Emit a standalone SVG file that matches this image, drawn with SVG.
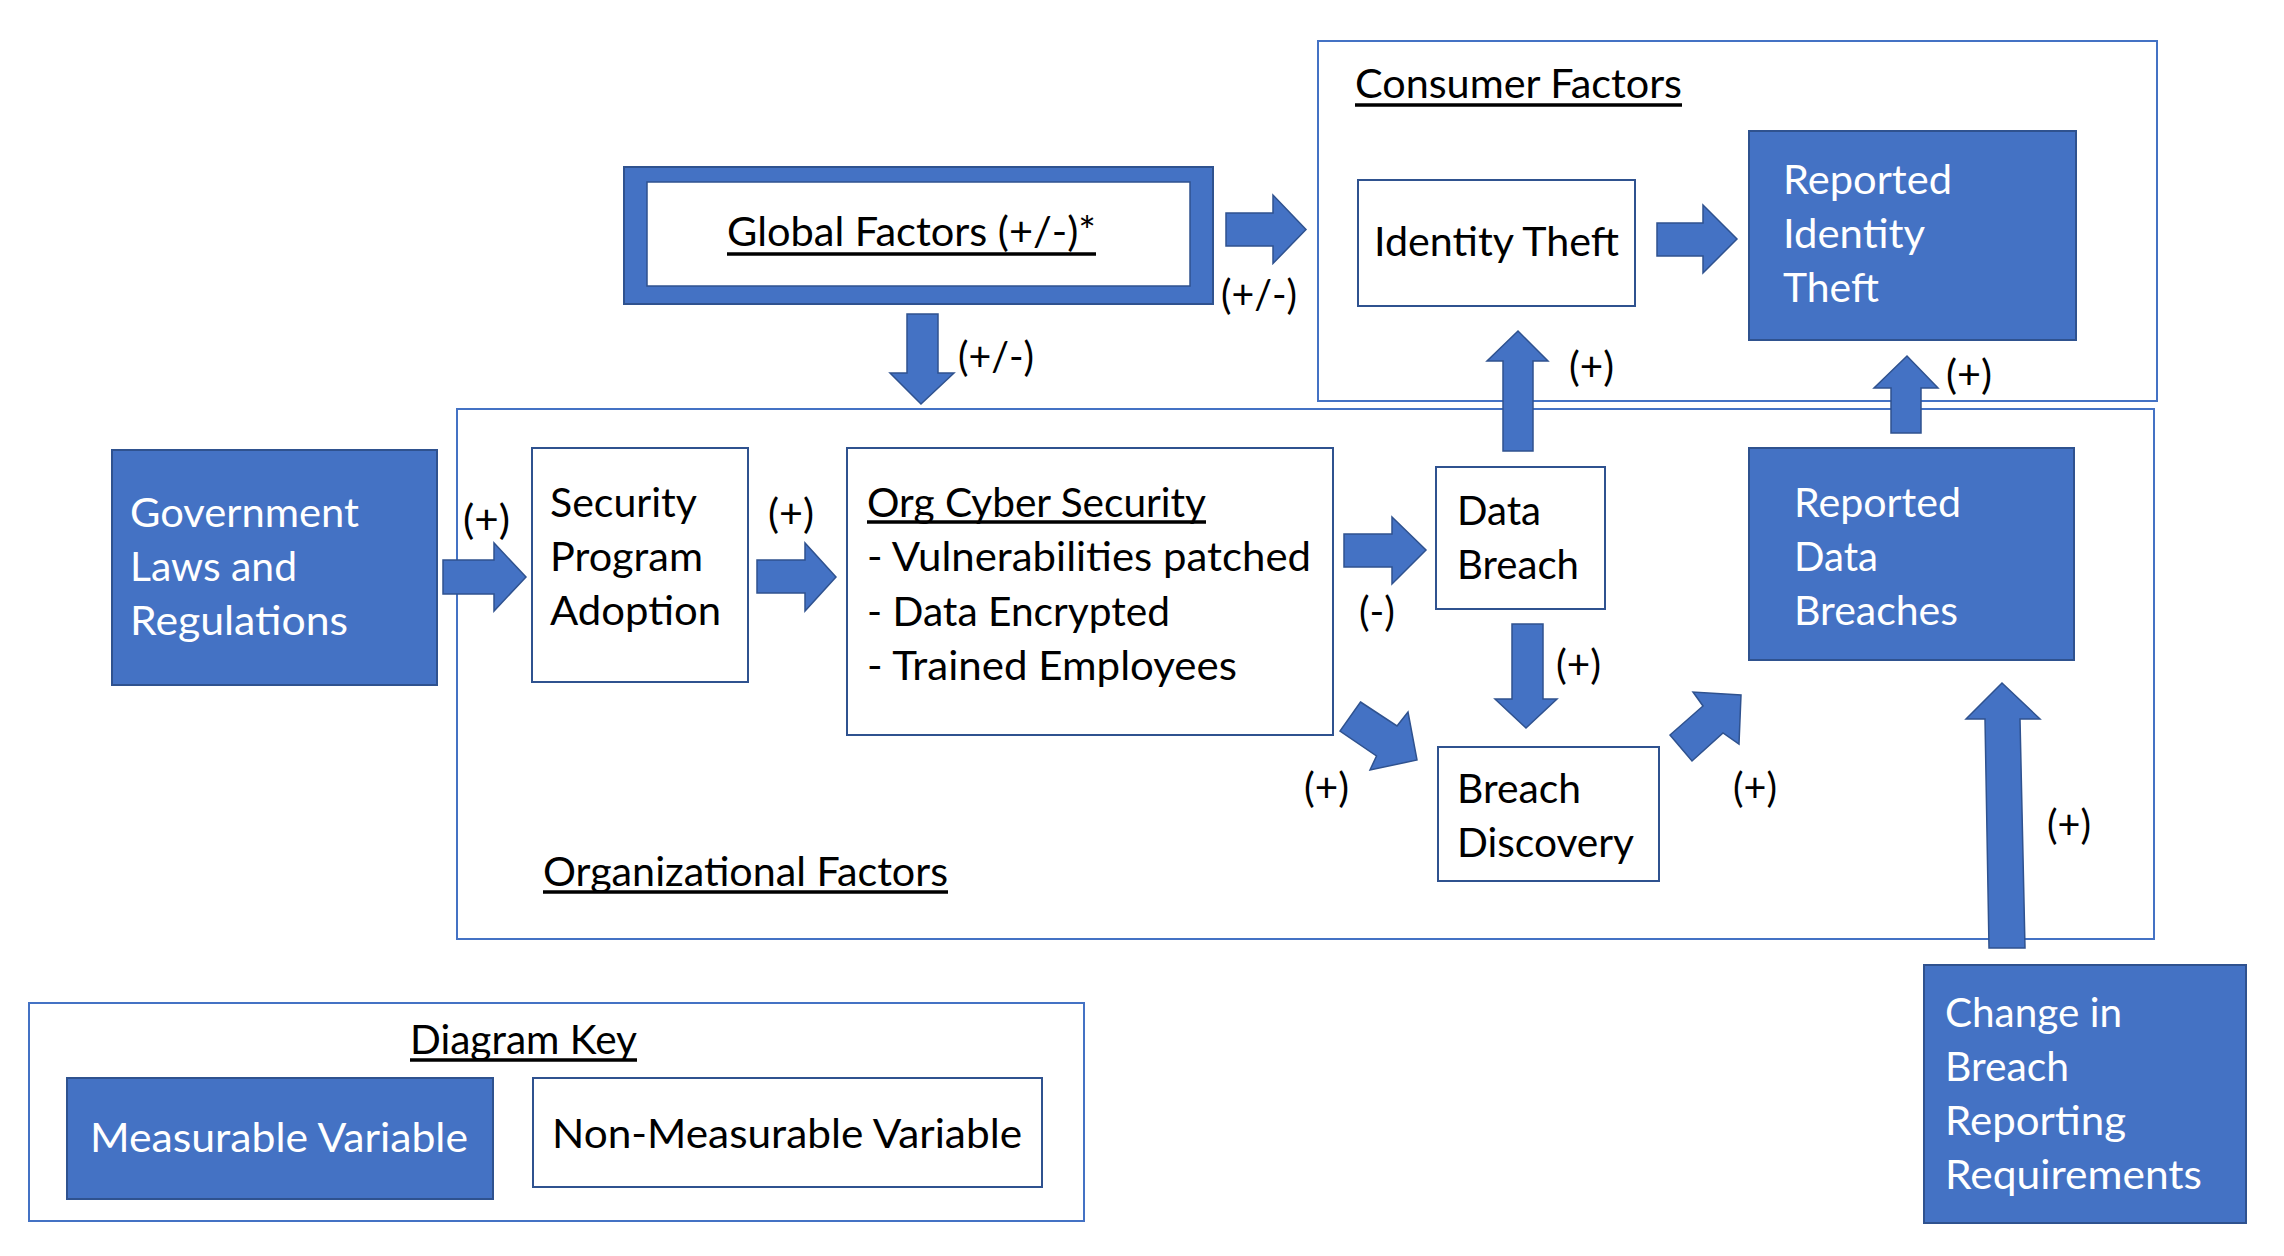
<svg xmlns="http://www.w3.org/2000/svg" width="2284" height="1256" viewBox="0 0 2284 1256">
<style>
.frame{fill:#ffffff;stroke:#4472C4;stroke-width:2}
.white{fill:#ffffff;stroke:#2F528F;stroke-width:2}
.blue{fill:#4472C4;stroke:#2F528F;stroke-width:2}
.arrow{fill:#4472C4;stroke:#2F528F;stroke-width:1.5;stroke-linejoin:miter}
.ul{stroke:#000000;stroke-width:3.5}
text{font-family:Lato,"Liberation Sans",Arial,sans-serif;font-size:41px;fill:#000000}
text.w{fill:#ffffff}
</style>
<rect x="0" y="0" width="2284" height="1256" fill="#ffffff"/>
<g id="consumer-factors">
<rect class="frame" x="1318" y="41" width="839" height="360"/>
<text x="1355" y="98" textLength="327" lengthAdjust="spacingAndGlyphs">Consumer Factors</text>
<line class="ul" x1="1355" y1="105" x2="1682" y2="105"/>
</g>
<g id="organizational-factors">
<rect class="frame" x="457" y="409" width="1697" height="530"/>
<text x="543" y="886" textLength="405" lengthAdjust="spacingAndGlyphs">Organizational Factors</text>
<line class="ul" x1="543" y1="892" x2="948" y2="892"/>
</g>
<g id="global-factors">
<rect x="624" y="167" width="589" height="137" fill="#4472C4" stroke="#2F528F" stroke-width="2"/>
<rect x="647" y="182" width="543" height="104" fill="#ffffff" stroke="#2F528F" stroke-width="1.5"/>
<text x="727" y="246" textLength="369" lengthAdjust="spacingAndGlyphs">Global Factors (+/-)*</text>
<line class="ul" x1="727" y1="254" x2="1096" y2="254"/>
</g>
<g id="government-laws">
<rect class="blue" x="112" y="450" width="325" height="235"/>
<text class="w" x="130" y="527" textLength="229" lengthAdjust="spacingAndGlyphs">Government</text>
<text class="w" x="130" y="581" textLength="167" lengthAdjust="spacingAndGlyphs">Laws and</text>
<text class="w" x="130" y="635" textLength="218" lengthAdjust="spacingAndGlyphs">Regulations</text>
</g>
<g id="security-program-adoption">
<rect class="white" x="532" y="448" width="216" height="234"/>
<text x="550" y="517" textLength="147" lengthAdjust="spacingAndGlyphs">Security</text>
<text x="550" y="571" textLength="153" lengthAdjust="spacingAndGlyphs">Program</text>
<text x="550" y="625" textLength="171" lengthAdjust="spacingAndGlyphs">Adoption</text>
</g>
<g id="org-cyber-security">
<rect class="white" x="847" y="448" width="486" height="287"/>
<text x="867" y="517" textLength="339" lengthAdjust="spacingAndGlyphs">Org Cyber Security</text>
<line class="ul" x1="867" y1="522" x2="1206" y2="522"/>
<text x="867" y="571" textLength="444" lengthAdjust="spacingAndGlyphs">- Vulnerabilities patched</text>
<text x="867" y="626" textLength="303" lengthAdjust="spacingAndGlyphs">- Data Encrypted</text>
<text x="867" y="680" textLength="370" lengthAdjust="spacingAndGlyphs">- Trained Employees</text>
</g>
<g id="identity-theft">
<rect class="white" x="1358" y="180" width="277" height="126"/>
<text x="1374" y="256" textLength="245" lengthAdjust="spacingAndGlyphs">Identity Theft</text>
</g>
<g id="reported-identity-theft">
<rect class="blue" x="1749" y="131" width="327" height="209"/>
<text class="w" x="1783" y="194" textLength="169" lengthAdjust="spacingAndGlyphs">Reported</text>
<text class="w" x="1783" y="248" textLength="142" lengthAdjust="spacingAndGlyphs">Identity</text>
<text class="w" x="1783" y="302" textLength="96" lengthAdjust="spacingAndGlyphs">Theft</text>
</g>
<g id="data-breach">
<rect class="white" x="1436" y="467" width="169" height="142"/>
<text x="1457" y="525" textLength="84" lengthAdjust="spacingAndGlyphs">Data</text>
<text x="1457" y="579" textLength="122" lengthAdjust="spacingAndGlyphs">Breach</text>
</g>
<g id="reported-data-breaches">
<rect class="blue" x="1749" y="448" width="325" height="212"/>
<text class="w" x="1794" y="517" textLength="167" lengthAdjust="spacingAndGlyphs">Reported</text>
<text class="w" x="1794" y="571" textLength="84" lengthAdjust="spacingAndGlyphs">Data</text>
<text class="w" x="1794" y="625" textLength="164" lengthAdjust="spacingAndGlyphs">Breaches</text>
</g>
<g id="breach-discovery">
<rect class="white" x="1438" y="747" width="221" height="134"/>
<text x="1457" y="803" textLength="124" lengthAdjust="spacingAndGlyphs">Breach</text>
<text x="1457" y="857" textLength="177" lengthAdjust="spacingAndGlyphs">Discovery</text>
</g>
<g id="change-breach-reporting">
<rect class="blue" x="1924" y="965" width="322" height="258"/>
<text class="w" x="1945" y="1027" textLength="177" lengthAdjust="spacingAndGlyphs">Change in</text>
<text class="w" x="1945" y="1081" textLength="124" lengthAdjust="spacingAndGlyphs">Breach</text>
<text class="w" x="1945" y="1135" textLength="181" lengthAdjust="spacingAndGlyphs">Reporting</text>
<text class="w" x="1945" y="1189" textLength="257" lengthAdjust="spacingAndGlyphs">Requirements</text>
</g>
<g id="connectors">
<polygon class="arrow" points="907,314 938,314 938,373 954,373 921,404 890,373 907,373"/>
<polygon class="arrow" points="443,560 494,560 494,543 526,577 494,611 494,594 443,594"/>
<polygon class="arrow" points="757,560 805,560 805,543 836,577 805,611 805,593 757,593"/>
<polygon class="arrow" points="1226,213 1273,213 1273,195 1306,229.5 1273,263.5 1273,246 1226,246"/>
<polygon class="arrow" points="1657,223 1703,223 1703,205 1737,239 1703,273 1703,256 1657,256"/>
<polygon class="arrow" points="1503,451 1503,361 1487,361 1518,331 1548,361 1533,361 1533,451"/>
<polygon class="arrow" points="1891,433 1891,388 1874,388 1907,356 1938,388 1921,388 1921,433"/>
<polygon class="arrow" points="1344,534 1392,534 1392,517 1426,550 1392,584 1392,567 1344,567"/>
<polygon class="arrow" points="1512,624 1543,624 1543,699 1557,699 1526,728 1495,699 1512,699"/>
<polygon class="arrow" points="1360.5,702 1397,726 1408,712 1417,760 1370,770 1376.5,756 1340,731"/>
<polygon class="arrow" points="1670,735 1703,706 1693,692 1741,695 1739,744 1723,733 1692,761"/>
<polygon class="arrow" points="1989,948 1985,719 1966,719 2002,683 2040,719 2020,719 2025,948"/>
<text x="958" y="371" textLength="76" lengthAdjust="spacingAndGlyphs">(+/-)</text>
<text x="1221" y="309" textLength="76" lengthAdjust="spacingAndGlyphs">(+/-)</text>
<text x="463" y="534" textLength="47" lengthAdjust="spacingAndGlyphs">(+)</text>
<text x="768" y="528" textLength="46" lengthAdjust="spacingAndGlyphs">(+)</text>
<text x="1569" y="381" textLength="45" lengthAdjust="spacingAndGlyphs">(+)</text>
<text x="1946" y="389" textLength="46" lengthAdjust="spacingAndGlyphs">(+)</text>
<text x="1359" y="626" textLength="36" lengthAdjust="spacingAndGlyphs">(-)</text>
<text x="1556" y="679" textLength="45" lengthAdjust="spacingAndGlyphs">(+)</text>
<text x="1304" y="802" textLength="45" lengthAdjust="spacingAndGlyphs">(+)</text>
<text x="1733" y="802" textLength="44" lengthAdjust="spacingAndGlyphs">(+)</text>
<text x="2047" y="839" textLength="44" lengthAdjust="spacingAndGlyphs">(+)</text>
</g>
<g id="diagram-key">
<rect class="frame" x="29" y="1003" width="1055" height="218"/>
<text x="410" y="1054" textLength="227" lengthAdjust="spacingAndGlyphs">Diagram Key</text>
<line class="ul" x1="410" y1="1060" x2="637" y2="1060"/>
<g id="key-measurable">
<rect class="blue" x="67" y="1078" width="426" height="121"/>
<text class="w" x="90" y="1152" textLength="378" lengthAdjust="spacingAndGlyphs">Measurable Variable</text>
</g>
<g id="key-non-measurable">
<rect class="white" x="533" y="1078" width="509" height="109"/>
<text x="552" y="1148" textLength="470" lengthAdjust="spacingAndGlyphs">Non-Measurable Variable</text>
</g>
</g>
</svg>
